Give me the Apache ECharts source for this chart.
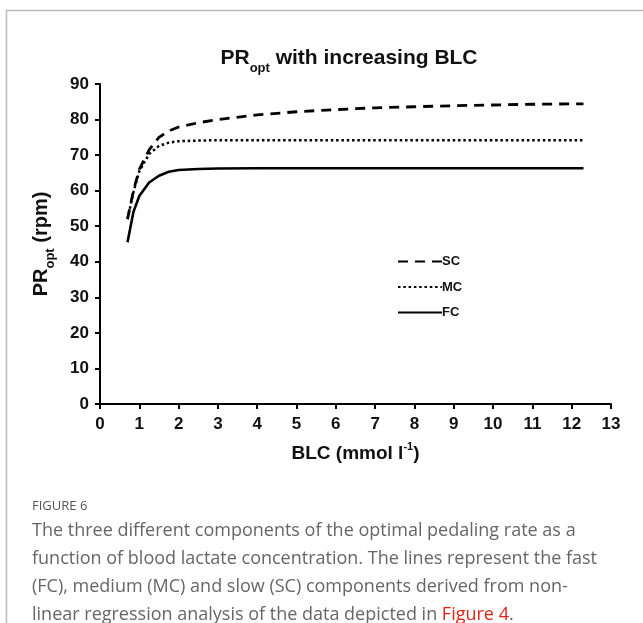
<!DOCTYPE html>
<html>
<head>
<meta charset="utf-8">
<script src="https://cdn.jsdelivr.net/npm/echarts@6/dist/echarts.min.js"></script>
<style>
  html, body { margin: 0; padding: 0; background: #fff; }
  #chart { width: 643px; height: 623px; }
</style>
</head>
<body>
<div id="chart"></div>
<script>
// Blood lactate concentration (mmol l-1) at which each component is evaluated
var blc = [0.7, 0.85, 1.0, 1.25, 1.5, 1.75, 2.0, 2.5, 3.0, 4.0, 5.0, 6.0, 7.0, 8.0, 9.0, 10.0, 11.0, 12.0, 12.3];

// Optimal pedaling rate components (rpm)
var slowComp   = [52.0, 60.0, 66.0, 71.5, 75.0, 76.8, 77.9, 79.1, 80.0, 81.3, 82.2, 82.8, 83.3, 83.6, 83.9, 84.1, 84.3, 84.4, 84.4];
var mediumComp = [52.0, 59.5, 65.5, 70.3, 72.6, 73.5, 73.9, 74.1, 74.2, 74.2, 74.2, 74.2, 74.2, 74.2, 74.2, 74.2, 74.2, 74.2, 74.2];
var fastComp   = [45.5, 54.0, 58.5, 62.3, 64.2, 65.3, 65.8, 66.1, 66.25, 66.3, 66.3, 66.3, 66.3, 66.3, 66.3, 66.3, 66.3, 66.3, 66.3];

var seriesNames = ['SC', 'MC', 'FC'];
var xTicks = { min: 0, max: 13, step: 1 };
var yTicks = { min: 0, max: 90, step: 10 };

var captionLines = [
  'The three different components of the optimal pedaling rate as a',
  'function of blood lactate concentration. The lines represent the fast',
  '(FC), medium (MC) and slow (SC) components derived from non-'
];

function pairs(ys) {
  return blc.map(function (x, i) { return [x, ys[i]]; });
}

var chart = echarts.init(document.getElementById('chart'), null, { renderer: 'canvas' });

var axisFont = { fontFamily: 'Liberation Sans', fontWeight: 'bold', fontSize: 17, color: '#111' };

function subRich(size, subSize) {
  return {
    a: { fontFamily: 'Liberation Sans', fontWeight: 'bold', fontSize: size, color: '#111', verticalAlign: 'bottom', lineHeight: size + 4 },
    s: { fontFamily: 'Liberation Sans', fontWeight: 'bold', fontSize: subSize, color: '#111', verticalAlign: 'bottom', lineHeight: subSize + 3, padding: [0, 0, -6, 0] }
  };
}

var option = {
  backgroundColor: '#fff',
  animation: false,
  title: {
    text: '{a|PR}{s|opt}{a| with increasing BLC}',
    left: 344,
    textAlign: 'center',
    top: 39,
    textStyle: { rich: subRich(21, 13) }
  },
  grid: { left: 100, right: 32, top: 84, bottom: 219, containLabel: false },
  legend: {
    orient: 'vertical',
    left: 392,
    top: 250,
    itemWidth: 44,
    itemHeight: 12,
    itemGap: 12.5,
    data: seriesNames,
    itemStyle: { opacity: 0 },
    textStyle: { fontFamily: 'Liberation Sans', fontWeight: 'bold', fontSize: 13, color: '#111', padding: [0, 0, 0, -5] }
  },
  xAxis: {
    type: 'value',
    min: xTicks.min,
    max: xTicks.max,
    interval: xTicks.step,
    name: '{a|BLC (mmol l}{s|-1}{a|)}',
    nameLocation: 'middle',
    nameGap: 37,
    nameTextStyle: {
      rich: {
        a: { fontFamily: 'Liberation Sans', fontWeight: 'bold', fontSize: 19, color: '#111', verticalAlign: 'bottom', lineHeight: 22 },
        s: { fontFamily: 'Liberation Sans', fontWeight: 'bold', fontSize: 11, color: '#111', verticalAlign: 'top', lineHeight: 22, padding: [0, 0, 9, 0] }
      }
    },
    axisLine: { lineStyle: { color: '#000', width: 2 } },
    axisTick: { show: true, length: 5, lineStyle: { color: '#000', width: 2 } },
    axisLabel: Object.assign({ margin: 12 }, axisFont),
    splitLine: { show: false }
  },
  yAxis: {
    type: 'value',
    min: yTicks.min,
    max: yTicks.max,
    interval: yTicks.step,
    name: '{a|PR}{s|opt}{a| (rpm)}',
    nameLocation: 'middle',
    nameGap: 49,
    nameRotate: 90,
    nameTextStyle: { rich: subRich(20, 13) },
    axisLine: { show: true, lineStyle: { color: '#000', width: 2 } },
    axisTick: { show: true, length: 5, lineStyle: { color: '#000', width: 2 } },
    axisLabel: Object.assign({ margin: 11 }, axisFont),
    splitLine: { show: false }
  },
  series: [
    {
      name: 'SC', type: 'line', data: pairs(slowComp), showSymbol: false, symbol: 'none', smooth: false,
      lineStyle: { color: '#000', width: 2.8, type: [10, 7] }, itemStyle: { color: '#000' }
    },
    {
      name: 'MC', type: 'line', data: pairs(mediumComp), showSymbol: false, symbol: 'none', smooth: false,
      lineStyle: { color: '#000', width: 2.5, type: [2.5, 2.8] }, itemStyle: { color: '#000' }
    },
    {
      name: 'FC', type: 'line', data: pairs(fastComp), showSymbol: false, symbol: 'none', smooth: false,
      lineStyle: { color: '#000', width: 2.6, type: 'solid' }, itemStyle: { color: '#000' }
    }
  ],
  graphic: [
    // page frame lines
    { type: 'line', shape: { x1: 6, y1: 10.5, x2: 643, y2: 10.5 }, style: { stroke: '#bbb', lineWidth: 1.5 } },
    { type: 'line', shape: { x1: 6.5, y1: 10, x2: 6.5, y2: 623 }, style: { stroke: '#bbb', lineWidth: 1.5 } },
    // caption
    { type: 'text', left: 32, top: 500, style: { text: 'FIGURE 6', fontFamily: 'Open Sans', fontSize: 13, fill: '#555' } },
    { type: 'text', left: 32, top: 522, style: { text: captionLines[0], fontFamily: 'Open Sans', fontSize: 18, fill: '#666' } },
    { type: 'text', left: 32, top: 550, style: { text: captionLines[1], fontFamily: 'Open Sans', fontSize: 18, fill: '#666' } },
    { type: 'text', left: 32, top: 578, style: { text: captionLines[2], fontFamily: 'Open Sans', fontSize: 18, fill: '#666' } },
    { type: 'text', left: 32, top: 606, style: {
        text: '{g|linear regression analysis of the data depicted in }{r|Figure 4}{g|.}',
        rich: {
          g: { fontFamily: 'Open Sans', fontSize: 18, fill: '#666', color: '#666' },
          r: { fontFamily: 'Open Sans', fontSize: 18, fill: '#e2231a', color: '#e2231a' }
        }
      } }
  ]
};

chart.setOption(option);
</script>
</body>
</html>
